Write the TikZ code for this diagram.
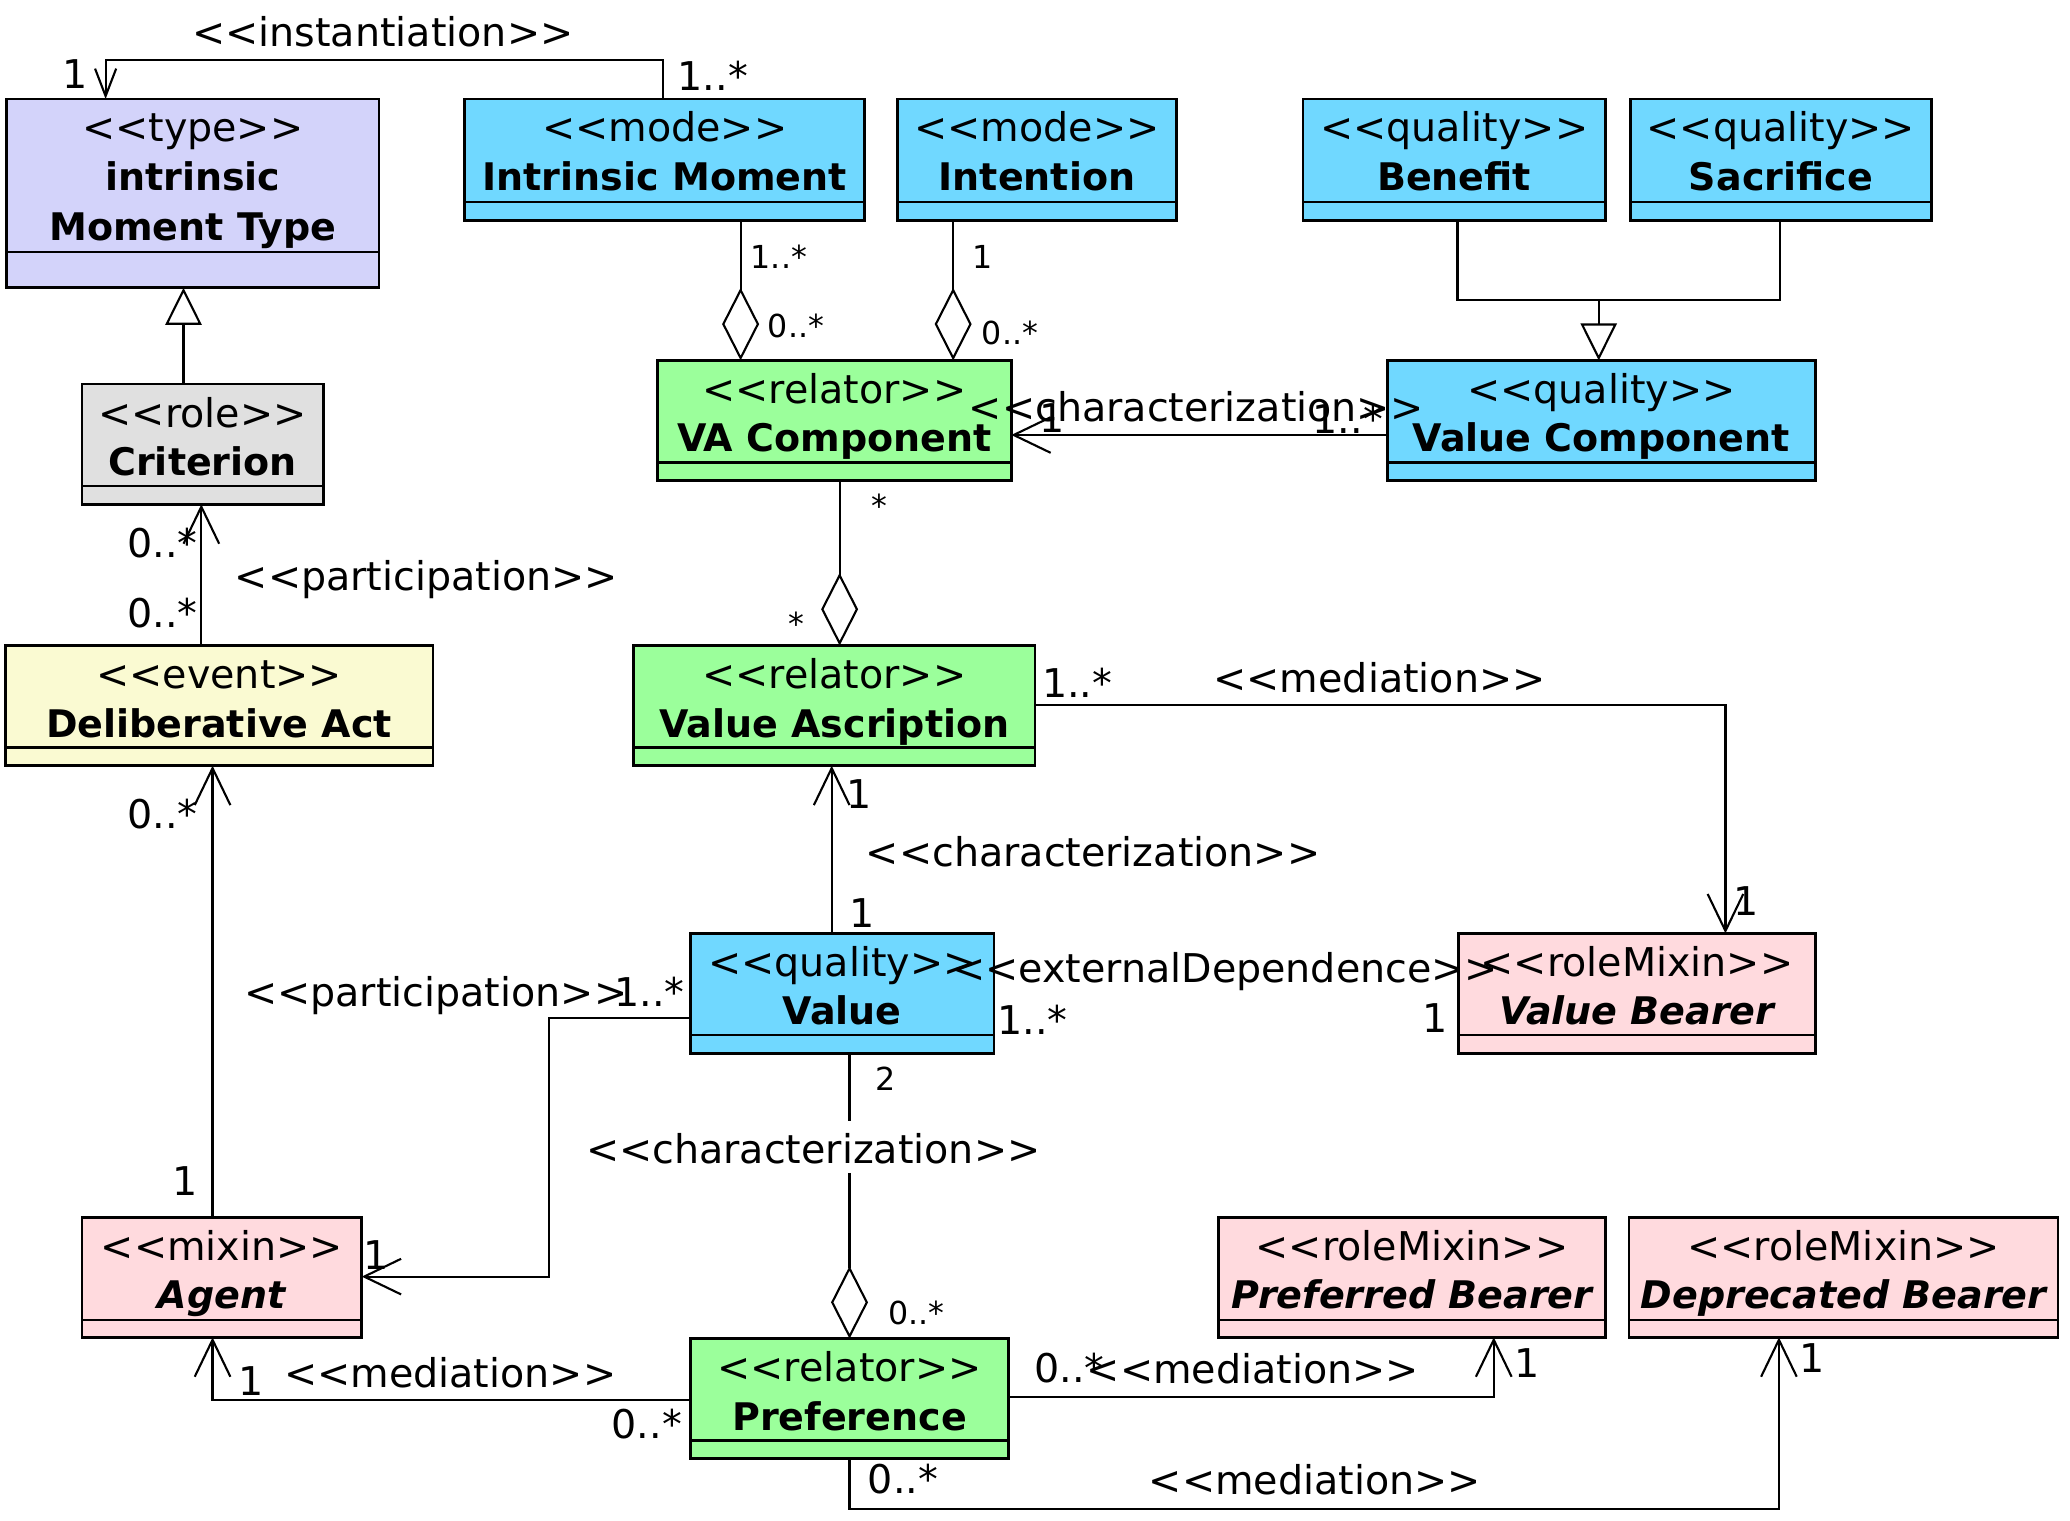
\documentclass[tikz,border=0pt]{standalone}
\usepackage{fontspec}
\setmainfont{DejaVu Sans}[Ligatures=TeXOff]
\usetikzlibrary{arrows.meta}
\definecolor{cblue}{RGB}{112,216,255}
\definecolor{cgreen}{RGB}{155,255,155}
\definecolor{clav}{RGB}{211,211,250}
\definecolor{cgray}{RGB}{224,224,224}
\definecolor{cyel}{RGB}{250,250,210}
\definecolor{cpink}{RGB}{255,218,222}
\tikzset{
  classbox/.style={draw, line width=1pt, inner sep=0pt, outer sep=0pt, anchor=north west},
  stereo/.style={font=\fontsize{15}{18}\selectfont, inner sep=0pt, text height=0.75em, text depth=0pt, yshift=-1.5pt},
  cname/.style={font=\fontsize{14.4}{18}\selectfont\bfseries, inner sep=0pt, text height=0.73em, text depth=0pt, yshift=-1.5pt},
  aname/.style={cname, font=\fontsize{14.4}{18}\selectfont\bfseries\itshape},
  lbl/.style={font=\fontsize{15}{18}\selectfont, inner sep=0pt, text height=0.73em, text depth=0pt, yshift=-1.5pt},
  slbl/.style={lbl, font=\fontsize{12}{14}\selectfont},
  conn/.style={line width=0.8pt},
  assoc/.style={conn, -{Straight Barb[length=14pt, width=13.5pt]}},
  inst/.style={conn, -{Straight Barb[length=10.4pt, width=8pt]}},
  gen/.style={conn, -{Triangle[open, length=14pt, width=13.7pt]}},
  aggr/.style={conn, -{Diamond[open, length=27.5pt, width=14pt]}},
}
\newcommand\UMLbox[7]{%
  \node[classbox, fill=#7, minimum width={(#4-#2)*0.5pt}, minimum height={(#5-#3)*0.5pt}] (#1) at (#2,#3) {};
  \draw[line width=1pt] (#1.west |- 0,#6) -- (#1.east |- 0,#6);
}
\newcommand\UMLtext[4]{%
  \node[stereo] (#1-s) at ([yshift=-11pt]#1.north) {#2};
  \node[#3] (#1-n) at ([yshift=-29.5pt]#1.north) {#4};
}
\begin{document}
\begin{tikzpicture}[x=0.5pt, y=-0.5pt]
\useasboundingbox (0,0) rectangle (1568,1152);
% classes
\UMLbox{imt}{5}{75}{287}{218}{191}{clav}
\node[stereo] (imt-s) at ([yshift=-11pt]imt.north) {<<type>>};
\node[cname] (imt-n1) at ([yshift=-29.5pt]imt.north) {intrinsic};
\node[cname] (imt-n2) at ([yshift=-48.5pt]imt.north) {Moment Type};
\UMLbox{im}{352}{75}{655}{167}{153}{cblue}
\UMLtext{im}{<<mode>>}{cname}{Intrinsic Moment}
\UMLbox{intn}{680}{75}{891}{167}{153}{cblue}
\UMLtext{intn}{<<mode>>}{cname}{Intention}
\UMLbox{ben}{987}{75}{1216}{167}{153}{cblue}
\UMLtext{ben}{<<quality>>}{cname}{Benefit}
\UMLbox{sac}{1235}{75}{1463}{167}{153}{cblue}
\UMLtext{sac}{<<quality>>}{cname}{Sacrifice}
\UMLbox{crit}{62}{291}{245}{382}{368}{cgray}
\UMLtext{crit}{<<role>>}{cname}{Criterion}
\UMLbox{vac}{498}{273}{766}{364}{350.5}{cgreen}
\UMLtext{vac}{<<relator>>}{cname}{VA Component}
\UMLbox{vc}{1051}{273}{1375}{364}{350.5}{cblue}
\UMLtext{vc}{<<quality>>}{cname}{Value Component}
\UMLbox{da}{4}{489}{328}{580}{566}{cyel}
\UMLtext{da}{<<event>>}{cname}{Deliberative Act}
\UMLbox{va}{480}{489}{784}{580}{566}{cgreen}
\UMLtext{va}{<<relator>>}{cname}{Value Ascription}
\UMLbox{val}{523}{707}{753}{798}{784}{cblue}
\UMLtext{val}{<<quality>>}{cname}{Value}
\UMLbox{vb}{1105}{707}{1375}{798}{784}{cpink}
\UMLtext{vb}{<<roleMixin>>}{aname}{Value Bearer}
\UMLbox{agent}{62}{922}{274}{1013}{1000}{cpink}
\UMLtext{agent}{<<mixin>>}{aname}{Agent}
\UMLbox{pref}{523}{1014}{764}{1105}{1091}{cgreen}
\UMLtext{pref}{<<relator>>}{cname}{Preference}
\UMLbox{pb}{923}{922}{1216}{1013}{1000}{cpink}
\UMLtext{pb}{<<roleMixin>>}{aname}{Preferred Bearer}
\UMLbox{db}{1234}{922}{1559}{1013}{1000}{cpink}
\UMLtext{db}{<<roleMixin>>}{aname}{Deprecated Bearer}
% connectors
\draw[inst] (im.north -| 502,0) |- (80,45.5) -- (imt.north -| 80,0);
\draw[gen] (crit.north -| 139,0) -- (imt.south -| 139,0);
\draw[conn] (ben.south -| 1104,0) |- (1348,227) -- (sac.south -| 1348,0);
\coordinate (gj) at (1211,227);
\draw[gen] (gj) -- (vc.north -| gj);
\draw[aggr] (im.south -| 561,0) -- (vac.north -| 561,0);
\draw[aggr] (intn.south -| 722,0) -- (vac.north -| 722,0);
\draw[assoc] (vc.west |- 0,329.5) -- (vac.east |- 0,329.5);
\draw[aggr] (vac.south -| 636,0) -- (va.north -| 636,0);
\draw[assoc] (da.north -| 152.5,0) -- (crit.south -| 152.5,0);
\draw[assoc] (agent.north -| 161,0) -- (da.south -| 161,0);
\draw[assoc] (val.north -| 630,0) -- (va.south -| 630,0);
\draw[assoc] (va.east |- 0,534) -| (vb.north -| 1307,0);
\draw[assoc] (val.west |- 0,771) -| (416,967) -- (agent.east |- 0,967);
\coordinate (cg1) at (643.5,849);
\coordinate (cg2) at (643.5,888.5);
\draw[conn] (val.south -| cg1) -- (cg1);
\draw[aggr] (cg2) -- (pref.north -| cg2);
\draw[assoc] (pref.west |- 0,1060.5) -| (agent.south -| 161,0);
\draw[assoc] (pref.east |- 0,1058.5) -| (pb.south -| 1131.5,0);
\draw[assoc] (pref.south -| 643.5,0) |- (1347.5,1143) -- (db.south -| 1347.5,0);
% labels
\node[lbl] (L-inst) at (290,25) {<<instantiation>>};
\node[lbl] (L-inst1) at (57,57) {1};
\node[lbl] (L-inst2) at (540,58) {1..*};
\node[slbl] (L-a1) at (590,193) {1..*};
\node[slbl] (L-a2) at (603,245) {0..*};
\node[slbl] (L-a3) at (744,193) {1};
\node[slbl] (L-a4) at (765,251) {0..*};
\node[lbl] (L-c1) at (906,309) {<<characterization>>};
\node[lbl] (L-c1a) at (797,317) {1};
\node[lbl] (L-c1b) at (1021,318) {1..*};
\node[lbl] (L-p1a) at (123,412) {0..*};
\node[lbl] (L-p1b) at (123,465) {0..*};
\node[lbl] (L-p1) at (323,437) {<<participation>>};
\node[slbl] (L-s1) at (666,382) {*};
\node[slbl] (L-s2) at (603,471) {*};
\node[lbl] (L-m1a) at (816,518) {1..*};
\node[lbl] (L-m1) at (1045,514) {<<mediation>>};
\node[lbl] (L-m1b) at (1323,683) {1};
\node[lbl] (L-p2a) at (123,617) {0..*};
\node[lbl] (L-c2a) at (651,602) {1};
\node[lbl] (L-c2) at (828,646) {<<characterization>>};
\node[lbl] (L-c2b) at (653,692) {1};
\node[lbl] (L-p3) at (330,752) {<<participation>>};
\node[lbl] (L-p3a) at (492,752) {1..*};
\node[lbl] (L-ed) at (928,734) {<<externalDependence>>};
\node[lbl] (L-eda) at (782,773) {1..*};
\node[lbl] (L-edb) at (1087,772) {1};
\node[slbl] (L-c3a) at (671,816) {2};
\node[lbl] (L-c3) at (616,871) {<<characterization>>};
\node[lbl] (L-p2b) at (140,895) {1};
\node[lbl] (L-p3b) at (285,951) {1};
\node[slbl] (L-c3b) at (694,993) {0..*};
\node[lbl] (L-m2a) at (190,1047) {1};
\node[lbl] (L-m2) at (341,1041) {<<mediation>>};
\node[lbl] (L-m2b) at (490,1079) {0..*};
\node[lbl] (L-m3a) at (810,1037) {0..*};
\node[lbl] (L-m3) at (949,1038) {<<mediation>>};
\node[lbl] (L-m3b) at (1157,1033) {1};
\node[lbl] (L-m4a) at (684,1121) {0..*};
\node[lbl] (L-m4) at (996,1122) {<<mediation>>};
\node[lbl] (L-m4b) at (1373,1029) {1};
\end{tikzpicture}
\end{document}
